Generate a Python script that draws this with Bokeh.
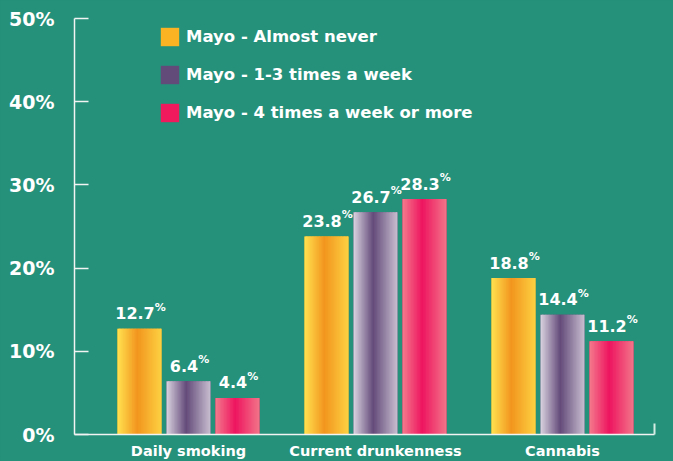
import numpy as np
from bokeh.plotting import figure
from bokeh.models import (Range1d, LinearAxis, FixedTicker, ColumnDataSource,
                          Legend, LegendItem, PrintfTickFormatter)
from bokeh.core.properties import value
from bokeh.embed import file_html
from bokeh.resources import INLINE

# ---------------- data ----------------
categories = ["Daily smoking", "Current drunkenness", "Cannabis"]
series_names = ["Mayo - Almost never", "Mayo - 1-3 times a week",
                "Mayo - 4 times a week or more"]
almost_never = [12.7, 23.8, 18.8]
one_to_three = [6.4, 26.7, 14.4]
four_or_more = [4.4, 28.3, 11.2]
y_ticks = [0, 10, 20, 30, 40, 50]

# ---------------- style ----------------
BG = "#26917a"
AXIS = "#f2f4f3"
FONT = "DejaVu Sans"
legend_colors = ["#fbb323", "#634b79", "#ef1a5e"]
# gradient stops: left edge, middle, right edge
gradients = [("#ffe24f", "#f2951f", "#fdd142"),
             ("#dad3e0", "#644b7a", "#c8bfd0"),
             ("#f47a8c", "#ee1560", "#f27589")]
GRAD_MID = 0.45
N_STRIPS = 30

X_START, X_END = -0.6096, 2.492
OFFSET = 0.262
BAR_W = 0.2353


def hex2rgb(h):
    h = h.lstrip("#")
    return np.array([int(h[i:i + 2], 16) for i in (0, 2, 4)], dtype=float)


def rgb2hex(c):
    c = np.clip(np.round(c), 0, 255).astype(int)
    return "#%02x%02x%02x" % tuple(c)


def grad_color(stops, t):
    a, m, b = (hex2rgb(s) for s in stops)
    if t <= GRAD_MID:
        u = t / GRAD_MID
        return rgb2hex(a + (m - a) * u)
    u = (t - GRAD_MID) / (1 - GRAD_MID)
    return rgb2hex(m + (b - m) * u)


p = figure(width=673, height=461, output_backend="svg", toolbar_location=None,
           x_range=Range1d(X_START, X_END), y_range=Range1d(0, 50),
           x_axis_type=None, y_axis_type=None,
           background_fill_color=BG, border_fill_color=BG,
           outline_line_color=None,
           min_border_left=74, min_border_right=19,
           min_border_top=18, min_border_bottom=27)
p.grid.visible = False

# y axis
yaxis = LinearAxis(ticker=FixedTicker(ticks=y_ticks, minor_ticks=[]),
                   formatter=PrintfTickFormatter(format="%d%%"))
yaxis.axis_line_color = AXIS
yaxis.axis_line_width = 1.5
yaxis.major_tick_line_color = AXIS
yaxis.major_tick_line_width = 1.5
yaxis.major_tick_in = 14
yaxis.major_tick_out = 0
yaxis.minor_tick_line_color = None
yaxis.major_label_standoff = 20
yaxis.major_label_text_color = "white"
yaxis.major_label_text_font = FONT
yaxis.major_label_text_font_style = "bold"
yaxis.major_label_text_font_size = "19px"
p.add_layout(yaxis, "left")

# x axis
xaxis = LinearAxis(ticker=FixedTicker(ticks=list(range(len(categories))),
                                      minor_ticks=[X_END]),
                   major_label_overrides={i: c for i, c in enumerate(categories)})
xaxis.axis_line_color = AXIS
xaxis.axis_line_width = 1.5
xaxis.major_tick_line_color = None
xaxis.major_tick_in = 0
xaxis.major_tick_out = 0
xaxis.minor_tick_line_color = "#d4ece4"
xaxis.minor_tick_line_width = 2
xaxis.minor_tick_in = 11
xaxis.minor_tick_out = 0
xaxis.major_label_standoff = 8
xaxis.major_label_text_color = "white"
xaxis.major_label_text_font = FONT
xaxis.major_label_text_font_style = "bold"
xaxis.major_label_text_font_size = "14.5px"
p.add_layout(xaxis, "below")

series = [almost_never, one_to_three, four_or_more]
legend_items = []
VAL_SIZE = 16.0
PCT_SIZE = 11.0
char_w = {d: 0.696 for d in "0123456789"}
char_w["."] = 0.380

for k, (vals, stops, lc, name) in enumerate(zip(series, gradients, legend_colors, series_names)):
    off = (k - 1) * OFFSET
    centers = [i + off for i in range(len(vals))]

    # base bar (solid colour, also used as legend glyph)
    r = p.vbar(x=centers, top=vals, width=BAR_W, bottom=0, fill_color=lc,
               line_color=None)
    legend_items.append(LegendItem(label=name, renderers=[r]))

    # horizontal gradient overlay made of thin slices
    lefts, rights, tops, cols = [], [], [], []
    sw = BAR_W / N_STRIPS
    for c, v in zip(centers, vals):
        left = c - BAR_W / 2
        for j in range(N_STRIPS):
            t = (j + 0.5) / N_STRIPS
            lefts.append(left + j * sw)
            rights.append(left + (j + 1) * sw + (sw * 0.6 if j < N_STRIPS - 1 else 0))
            tops.append(v)
            cols.append(grad_color(stops, t))
    src = ColumnDataSource(dict(l=lefts, r=rights, t=tops, c=cols))
    p.quad(left="l", right="r", top="t", bottom=0, fill_color="c",
           line_color=None, source=src)

    # value labels
    labels = ["%.1f" % v for v in vals]
    joints = []
    for s in labels:
        wn = sum(char_w[ch] for ch in s) * VAL_SIZE
        wp = 1.002 * PCT_SIZE
        joints.append((wn - wp) / 2 + 1)
    lsrc = ColumnDataSource(dict(x=centers, y=vals, t=labels,
                                 pct=["%"] * len(vals), xo=joints))
    p.text(x="x", y="y", text="t", x_offset="xo", y_offset=-15.5, source=lsrc,
           text_align="right", text_baseline="alphabetic",
           text_color="white", text_font=value(FONT), text_font_style="bold",
           text_font_size="%.1fpx" % VAL_SIZE)
    p.text(x="x", y="y", text="pct", x_offset="xo", y_offset=-21.5, source=lsrc,
           text_align="left", text_baseline="alphabetic",
           text_color="white", text_font=value(FONT), text_font_style="bold",
           text_font_size="%.1fpx" % PCT_SIZE)

legend = Legend(items=legend_items, location=(84, 310))
legend.padding = 0
legend.margin = 0
legend.border_line_color = None
legend.background_fill_alpha = 0
legend.glyph_width = 23
legend.glyph_height = 23
legend.label_height = 23
legend.label_standoff = 5
legend.spacing = 15
legend.label_text_color = "white"
legend.label_text_font = FONT
legend.label_text_font_style = "bold"
legend.label_text_font_size = "16.5px"
p.add_layout(legend, "center")

html = file_html(p, INLINE)
html = html.replace("</head>",
                    "<style>html,body{margin:0;padding:0;background:%s;overflow:hidden}</style></head>" % BG, 1)
open("out.html", "w").write(html)
